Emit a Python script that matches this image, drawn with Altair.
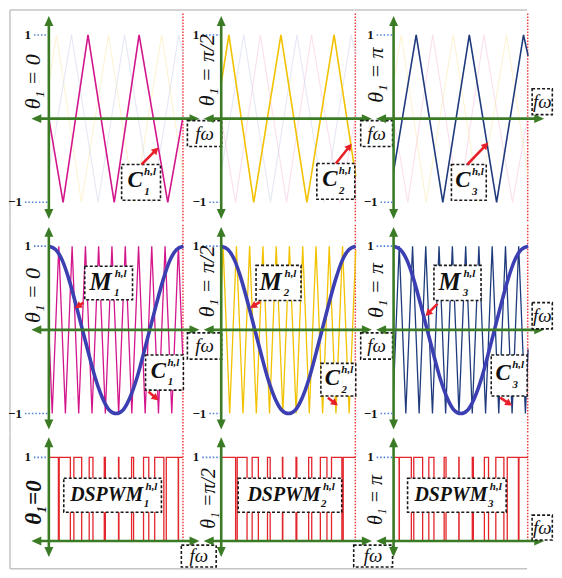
import math
import altair as alt
import pandas as pd

# ---------------- values ----------------
# time is expressed as a fraction of the displayed window (0 .. 1)

# modulating wave M^{h,l} (identical in the three columns)
MOD_T = [0.0, 0.05, 0.10, 0.15, 0.20, 0.25, 0.30, 0.35, 0.40, 0.45, 0.50,
         0.55, 0.60, 0.65, 0.70, 0.75, 0.80, 0.85, 0.90, 0.95, 1.0]
MOD_V = [1.0, 0.96, 0.83, 0.60, 0.31, 0.0, -0.31, -0.60, -0.82, -0.96, -1.0,
         -0.96, -0.82, -0.60, -0.31, 0.0, 0.31, 0.60, 0.83, 0.96, 1.0]

# row 1 : carriers, slow view (vertices)
C1_R1_T = [0.0, 0.106, 0.291, 0.486, 0.671, 0.884, 0.995]
C1_R1_V = [0.0, -1, 1, -1, 1, -1, 0.0]
C2_R1_T = [0.0, 0.057, 0.242, 0.444, 0.637, 0.839, 1.0]
C2_R1_V = [0.42, 1, -1, 1, -1, 1, -0.69]
C3_R1_T = [0.0, 0.168, 0.366, 0.563, 0.766, 0.966, 1.0]
C3_R1_V = [-0.63, 1, -1, 1, -1, 1, 0.75]

# row 2 : carriers at switching frequency (vertices)
C1_R2_T = [0.0, 0.025, 0.074, 0.123, 0.173, 0.222, 0.272, 0.321, 0.370, 0.420, 0.469,
           0.519, 0.568, 0.617, 0.667, 0.716, 0.765, 0.815, 0.864, 0.914, 0.963, 0.995]
C1_R2_V = [0.0, -1, 1, -1, 1, -1, 1, -1, 1, -1, 1, -1, 1, -1, 1, -1, 1, -1, 1, -1, 1, -0.3]
C2_R2_T = [0.0, 0.014, 0.063, 0.113, 0.162, 0.211, 0.261, 0.310, 0.359, 0.409, 0.458,
           0.507, 0.557, 0.606, 0.655, 0.705, 0.754, 0.803, 0.853, 0.902, 0.951, 1.0]
C2_R2_V = [0.45, 1, -1, 1, -1, 1, -1, 1, -1, 1, -1, 1, -1, 1, -1, 1, -1, 1, -1, 1, -1, 0.95]
C3_R2_T = [0.0, 0.042, 0.091, 0.141, 0.190, 0.239, 0.289, 0.338, 0.387, 0.437, 0.486,
           0.536, 0.585, 0.634, 0.684, 0.733, 0.782, 0.832, 0.881, 0.930, 0.980, 1.0]
C3_R2_V = [-0.71, 1, -1, 1, -1, 1, -1, 1, -1, 1, -1, 1, -1, 1, -1, 1, -1, 1, -1, 1, -1, -0.23]

# row 3 : DSPWM switching instants (fall, rise, fall, rise, ...)
PWM1_EDGES = [0.071, 0.077, 0.160, 0.186, 0.244, 0.300, 0.328, 0.412, 0.420, 0.518,
              0.521, 0.615, 0.630, 0.704, 0.743, 0.787, 0.855, 0.873, 0.962, 0.964]
PWM2_EDGES = [0.107, 0.119, 0.192, 0.230, 0.276, 0.344, 0.364, 0.455, 0.458, 0.556,
              0.562, 0.650, 0.673, 0.737, 0.786, 0.820, 0.897, 0.907]
PWM3_EDGES = [0.041, 0.043, 0.132, 0.150, 0.216, 0.262, 0.300, 0.376, 0.390, 0.485,
              0.487, 0.585, 0.593, 0.675, 0.706, 0.760, 0.820, 0.845, 0.928, 0.932]
PWM_END = [0.995, 1.0, 1.0]

THETA_LABELS = ["θ₁ = 0", "θ₁ = π/2", "θ₁ = π"]
THETA_LABELS_R3 = ["θ₁=0", "θ₁ =π/2", "θ₁ = π"]
TICK_ONE, TICK_MINUS = "1", "−1"
FW_LABEL = "fω"
SUP_LABEL = "h,l"
INDEX_LABELS = ["1", "2", "3"]

R1_T = [C1_R1_T, C2_R1_T, C3_R1_T]
R1_V = [C1_R1_V, C2_R1_V, C3_R1_V]
R2_T = [C1_R2_T, C2_R2_T, C3_R2_T]
R2_V = [C1_R2_V, C2_R2_V, C3_R2_V]
PWM_EDGES = [PWM1_EDGES, PWM2_EDGES, PWM3_EDGES]

# ---------------- layout / style ----------------
PX_T, PX_V = 135.0, 84.0
CELL_W = 173
CELL_H = [212, 212, 138]
XD = [-39 / PX_T, 134 / PX_T]


def ydom(r):
    return [-(CELL_H[r] - 109) / PX_V, 109 / PX_V]


SERIF = "Liberation Serif"
GREEN = "#3b7b25"
CAR = ["#d3168c", "#f2c200", "#1f3b7c"]
GHOST = ["#f6c4e0", "#fbeab0", "#cfd6ea"]
MOD_COLOR = "#3b3fb2"
PWM_COLOR = "#e3262b"
RED = "#e8202a"
RED_DOT = "#f03a3f"
BLUE_DOT = "#4f80d2"
GREY = "#c4c4c4"
GREEN_HEAD = "M0,0L-2,-0.9L-2,0.9Z"
RED_HEAD = "M0,0L-2,-1.1L-2,1.1Z"

THETA_POS = {
    (0, 0): (-0.119, 0.44), (0, 1): (-0.108, 0.58), (0, 2): (-0.133, 0.52),
    (1, 0): (-0.119, 0.41), (1, 1): (-0.108, 0.58), (1, 2): (-0.133, 0.47),
    (2, 0): (-0.111, 0.46), (2, 1): (-0.089, 0.51), (2, 2): (-0.133, 0.49),
}
THETA_SIZE = {(2, 0): 23, (2, 1): 20, (2, 2): 20}
TICK_T = [(-0.133, -0.20), (-0.163, -0.111), (-0.148, -0.119)]
V_AXIS = [(-1.20, 1.226), (-1.19, 1.23), (-0.19, 1.24)]
H_AXIS = (-0.13, 1.12)

C_BOX = {
    (0, 0): (0.541, 0.830, -0.976, -0.548), (0, 1): (0.711, 0.993, -0.964, -0.536),
    (0, 2): (0.430, 0.689, -0.976, -0.548), (1, 0): (0.719, 1.000, -0.72, -0.30),
    (1, 1): (0.741, 1.000, -0.79, -0.40), (1, 2): (0.726, 0.993, -0.79, -0.30),
}
C_ARROW = {
    (0, 0): (0.689, -0.548, 0.815, -0.345), (0, 1): (0.852, -0.536, 0.970, -0.300),
    (0, 2): (0.548, -0.548, 0.704, -0.286), (1, 0): (0.741, -0.738, 0.815, -0.845),
    (1, 1): (0.793, -0.810, 0.867, -0.905), (1, 2): (0.793, -0.810, 0.881, -0.905),
}
M_BOX = [(0.267, 0.622, 0.36, 0.76), (0.259, 0.593, 0.35, 0.77), (0.30, 0.65, 0.35, 0.77)]
M_ARROW = [(0.257, 0.325, 0.195, 0.258), (0.289, 0.333, 0.215, 0.262), (0.326, 0.31, 0.237, 0.167)]
D_BOX = [(0.111, 0.837, 0.345, 0.75), (0.126, 0.896, 0.345, 0.75), (0.104, 0.837, 0.345, 0.75)]
F_BOX = {
    (0, 0): (1.03, 1.285, -0.333, -0.024), (0, 1): (1.037, 1.274, -0.333, -0.024),
    (0, 2): (1.03, 1.18, 0.048, 0.357),
    (1, 0): (1.03, 1.285, -0.35, -0.036), (1, 1): (1.037, 1.274, -0.35, -0.036),
    (1, 2): (1.03, 1.18, 0.012, 0.325),
    (2, 0): (0.985, 1.244, -0.31, -0.048), (2, 1): (0.985, 1.274, -0.31, -0.048),
    (2, 2): (1.03, 1.18, 0.012, 0.31),
}


def off(t, v, dx, dy):
    return t + dx / PX_T, v - dy / PX_V


def make_cell(r, c):
    xs = alt.Scale(domain=XD, nice=False, zero=False)
    ys = alt.Scale(domain=ydom(r), nice=False, zero=False)

    def X(f="x"):
        return alt.X(f + ":Q", scale=xs, axis=None)

    def Y(f="y"):
        return alt.Y(f + ":Q", scale=ys, axis=None)

    layers = []

    def line(t, v, color, width, interp="linear", opacity=1.0):
        df = pd.DataFrame({"x": t, "y": v, "i": list(range(len(t)))})
        layers.append(alt.Chart(df).mark_line(color=color, strokeWidth=width, interpolate=interp,
                                              opacity=opacity)
                      .encode(x=X(), y=Y(), order=alt.Order("i:Q")))

    def rules(items, color, width, dash=None):
        df = pd.DataFrame(items, columns=["x", "x2", "y", "y2"])
        kw = dict(color=color, strokeWidth=width)
        if dash is not None:
            kw["strokeDash"] = dash
        layers.append(alt.Chart(df).mark_rule(**kw)
                      .encode(x=X(), x2=alt.X2("x2:Q"), y=Y(), y2=alt.Y2("y2:Q")))

    def heads(items, color, size, shape):
        df = pd.DataFrame(items, columns=["x", "y", "a"])
        layers.append(alt.Chart(df).mark_point(shape=shape, filled=True, color=color, size=size,
                                               opacity=1, strokeWidth=0)
                      .encode(x=X(), y=Y(), angle=alt.Angle("a:Q", scale=None)))

    def boxes(items):
        df = pd.DataFrame(items, columns=["x", "x2", "y", "y2"])
        layers.append(alt.Chart(df).mark_rect(fill="white", stroke="#1a1a1a", strokeWidth=1.6,
                                              strokeDash=[3, 2])
                      .encode(x=X(), x2=alt.X2("x2:Q"), y=Y(), y2=alt.Y2("y2:Q")))

    def texts(items, **kw):
        df = pd.DataFrame(items, columns=["x", "y", "text", "size"])
        layers.append(alt.Chart(df).mark_text(font=SERIF, baseline="middle", **kw)
                      .encode(x=X(), y=Y(), text="text:N", size=alt.Size("size:Q", scale=None)))

    def red_arrow(t1, v1, t2, v2, head=7.0):
        dx = (t2 - t1) * PX_T
        dy = -(v2 - v1) * PX_V
        ln = math.hypot(dx, dy)
        ux, uy = dx / ln, dy / ln
        ang = math.degrees(math.atan2(dy, dx)) % 360
        sx = t2 - ux * head * 0.7 / PX_T
        sy = v2 + uy * head * 0.7 / PX_V
        rules([(t1, sx, v1, sy)], RED, 2.6)
        heads([(t2, v2, ang)], RED, head * head, RED_HEAD)

    yd = ydom(r)

    # frame
    frame = []
    if r == 0:
        frame.append((XD[0], XD[1], yd[1], yd[1]))
    if c == 0:
        frame.append((XD[0], XD[0], yd[0] if r < 2 else -0.33, yd[1]))
    if r == 2:
        frame.append((XD[0], XD[1], -0.33, -0.33))
    if frame:
        rules(frame, GREY, 1.5)

    # red dotted boundary of the window (slightly inside the cell so it is not cut)
    rules([(0.997, 0.997, yd[0] if r < 2 else 0.0, yd[1] - 2 / PX_V)], RED_DOT, 1.5, [1.5, 1.5])

    # signals
    if r == 0:
        for k in range(3):
            if k != c:
                line(R1_T[k], R1_V[k], GHOST[k], 1.1, opacity=0.55)
        line(R1_T[c], R1_V[c], CAR[c], 1.6)
    elif r == 1:
        line(R2_T[c], R2_V[c], CAR[c], 1.3)
        line(MOD_T, MOD_V, MOD_COLOR, 3.6, "monotone")
    else:
        tt = [0.0, 0.0] + PWM_EDGES[c] + [PWM_END[c]]
        vv = [0.0, 1.0] + [0.0 if i % 2 == 0 else 1.0 for i in range(len(PWM_EDGES[c]))] + [1.0]
        line(tt, vv, PWM_COLOR, 1.3, "step-after")

    # green axes with arrow heads
    v0, v1 = V_AXIS[r]
    h0, h1 = H_AXIS
    rules([(0.0, 0.0, v0 + 6 / PX_V, v1 - 6 / PX_V), (h0 + 6 / PX_T, h1 - 6 / PX_T, 0.0, 0.0)],
          GREEN, 2.6)
    heads([(0.0, v1, 270), (0.0, v0, 90), (h0, 0.0, 180), (h1, 0.0, 0)], GREEN, 100, GREEN_HEAD)

    # tick marks 1 / -1
    one_t, minus_t = TICK_T[c]
    dots = [(one_t + 3 / PX_T, -1 / PX_T, 1.0, 1.0)]
    labels = [(one_t, 1.0, TICK_ONE, 13)]
    if r < 2:
        dots.append((minus_t + 3 / PX_T, -1 / PX_T, -1.0, -1.0))
        labels.append((minus_t, -1.0, TICK_MINUS, 13))
    rules(dots, BLUE_DOT, 1.6, [1.5, 2])
    texts(labels, align="right", fontWeight="bold", color="#111")

    # theta label
    tp = THETA_POS[(r, c)]
    size = THETA_SIZE.get((r, c), 22)
    lab = THETA_LABELS_R3[c] if r == 2 else THETA_LABELS[c]
    if r == 2 and c == 0:
        texts([(tp[0], tp[1], lab, size)], angle=270, align="center",
              fontWeight="bold", fontStyle="italic", color="#111")
    else:
        texts([(tp[0], tp[1], lab, size)], angle=270, align="center",
              fontStyle="italic", color="#111")

    # f-omega box
    fb = F_BOX[(r, c)]
    boxes([(fb[0], fb[1], fb[2], fb[3])])
    texts([((fb[0] + fb[1]) / 2, (fb[2] + fb[3]) / 2, FW_LABEL, 19)], align="center",
          fontStyle="italic", color="#111")

    # signal name boxes
    lab_items = []
    arrows = []
    if r < 2:
        b = C_BOX[(r, c)]
        boxes([(b[0], b[1], b[2], b[3])])
        tc, vc = (b[0] + b[1]) / 2, (b[2] + b[3]) / 2
        lab_items += [(*off(tc, vc, -6, -2), "C", 23), (*off(tc, vc, 9, -10), SUP_LABEL, 11),
                      (*off(tc, vc, 6, 10), INDEX_LABELS[c], 11)]
        arrows.append(C_ARROW[(r, c)])
    if r == 1:
        b = M_BOX[c]
        boxes([(b[0], b[1], b[2], b[3])])
        tc, vc = (b[0] + b[1]) / 2, (b[2] + b[3]) / 2
        lab_items += [(*off(tc, vc, -8, -1), "M", 25), (*off(tc, vc, 12, -9), SUP_LABEL, 11),
                      (*off(tc, vc, 8, 10), INDEX_LABELS[c], 11)]
        arrows.append(M_ARROW[c])
    if r == 2:
        b = D_BOX[c]
        boxes([(b[0], b[1], b[2], b[3])])
        tc, vc = (b[0] + b[1]) / 2, (b[2] + b[3]) / 2
        lab_items += [(*off(tc, vc, -6, 0), "DSPWM", 20), (*off(tc, vc, 39, -8), SUP_LABEL, 11),
                      (*off(tc, vc, 34, 9), INDEX_LABELS[c], 11)]
    texts(lab_items, align="center", fontWeight="bold", fontStyle="italic", color="#111")
    for a in arrows:
        red_arrow(*a)

    return alt.layer(*layers).properties(width=CELL_W, height=CELL_H[r])


cells = [make_cell(r, c) for r in range(3) for c in range(3)]
chart = (alt.concat(*cells, columns=3, spacing=0, bounds="flush")
         .properties(padding=0)
         .configure_view(strokeWidth=0))

chart.save("out.html", embed_options={"renderer": "svg", "actions": False})
